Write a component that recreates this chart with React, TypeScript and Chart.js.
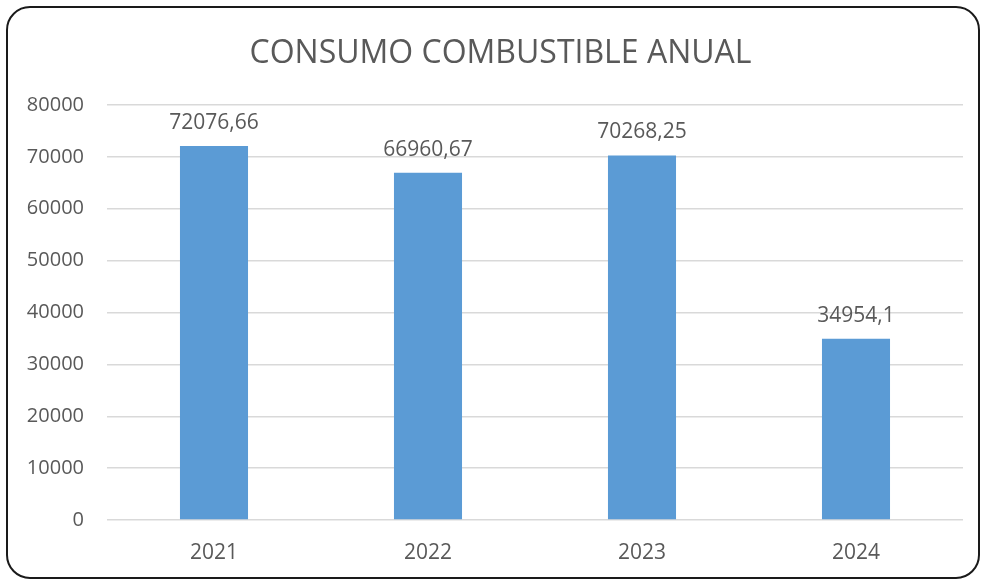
import React, { useEffect, useRef } from "react";
import { Chart, registerables } from "chart.js";

Chart.register(...registerables);

const categories = ["2021", "2022", "2023", "2024"];
const consumo = [72076.66, 66960.67, 70268.25, 34954.1];
const yTicks = [0, 10000, 20000, 30000, 40000, 50000, 60000, 70000, 80000];
const titleText = "CONSUMO COMBUSTIBLE ANUAL";

const FONT = "'Open Sans', 'Noto Sans', sans-serif";
const TEXT = "#595959";

const dataLabels = {
  id: "dataLabels",
  afterDatasetsDraw(chart: any) {
    const ctx = chart.ctx;
    const meta = chart.getDatasetMeta(0);
    ctx.save();
    ctx.fillStyle = TEXT;
    ctx.font = `21px ${FONT}`;
    ctx.textAlign = "center";
    ctx.textBaseline = "alphabetic";
    meta.data.forEach((bar: any, i: number) => {
      const v = chart.data.datasets[0].data[i] as number;
      ctx.fillText(String(v).replace(".", ","), bar.x, bar.y - 17);
    });
    ctx.restore();
  },
};

const chartTitle = {
  id: "chartTitle",
  afterDraw(chart: any) {
    const ctx = chart.ctx;
    ctx.save();
    ctx.fillStyle = TEXT;
    ctx.font = `32px ${FONT}`;
    ctx.textAlign = "center";
    ctx.textBaseline = "middle";
    ctx.fillText(titleText, 500.5, 53.5);
    ctx.restore();
  },
};

export default function App() {
  const ref = useRef<HTMLCanvasElement | null>(null);
  useEffect(() => {
    if (!ref.current) return;
    const chart = new Chart(ref.current, {
      type: "bar",
      data: {
        labels: categories,
        datasets: [
          {
            data: consumo,
            backgroundColor: "#5B9BD5",
            categoryPercentage: 1,
            barPercentage: 0.318,
          },
        ],
      },
      options: {
        animation: false,
        responsive: false,
        devicePixelRatio: 1,
        layout: { padding: { left: 0, right: 21, top: 105, bottom: 0 } },
        plugins: {
          legend: { display: false },
          tooltip: { enabled: false },
          title: { display: false },
        },
        scales: {
          x: {
            grid: { display: false, drawTicks: false },
            border: { display: false },
            ticks: { color: TEXT, font: { family: FONT, size: 21 }, padding: 20 },
            afterFit(scale: any) {
              scale.height = 61;
            },
          },
          y: {
            min: 0,
            max: 80000,
            afterBuildTicks(scale: any) {
              scale.ticks = yTicks.map((v) => ({ value: v }));
            },
            grid: { color: "#D9D9D9", lineWidth: 1.5, drawTicks: false },
            border: { display: false },
            ticks: {
              color: TEXT,
              font: { family: FONT, size: 20 },
              padding: 23,
              callback: (v: any) => String(v),
            },
            afterFit(scale: any) {
              scale.width = 107;
            },
          },
        },
      },
      plugins: [dataLabels, chartTitle],
    });
    return () => chart.destroy();
  }, []);

  return (
    <div style={{ position: "absolute", left: 0, top: 0, width: 984, height: 581, background: "#fff" }}>
      <div
        style={{
          position: "absolute",
          left: 6,
          top: 6,
          width: 974,
          height: 573,
          boxSizing: "border-box",
          border: "2px solid #1a1a1a",
          borderRadius: 24,
        }}
      />
      <canvas ref={ref} width={984} height={581} style={{ position: "absolute", left: 0, top: 0, width: 984, height: 581 }} />
    </div>
  );
}
